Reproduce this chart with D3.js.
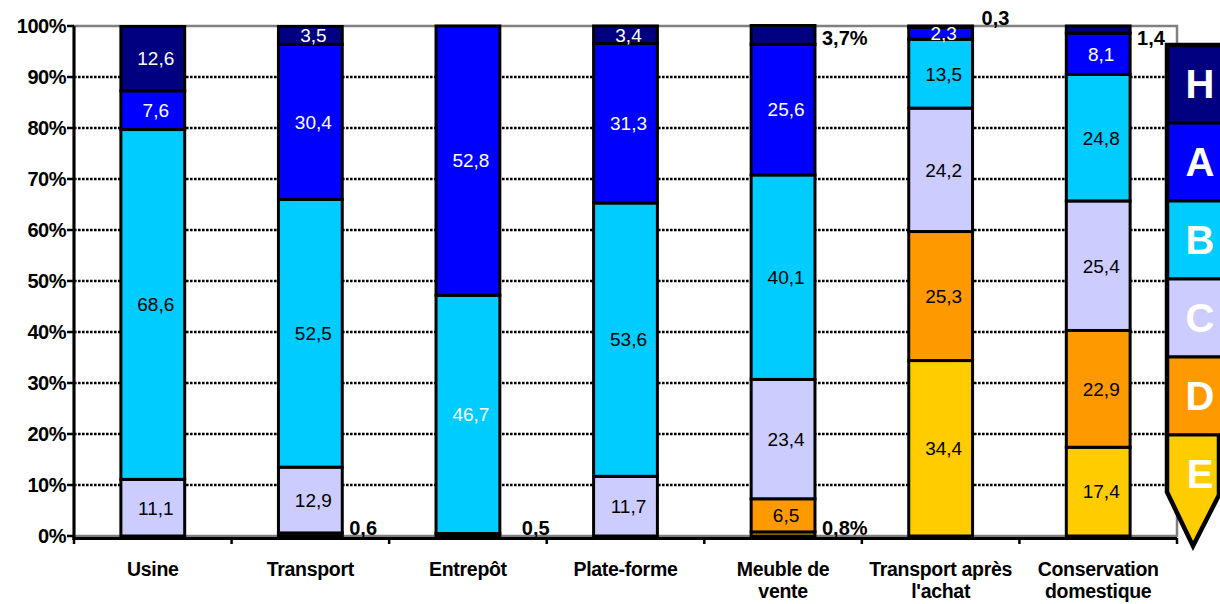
<!DOCTYPE html>
<html><head><meta charset="utf-8">
<script src="https://cdn.jsdelivr.net/npm/d3@7"></script>
<style>
body{margin:0;background:#fff}
svg{display:block}
text{font-family:"Liberation Sans",Arial,sans-serif}
</style>
</head><body>
<svg id="chart" width="1220" height="604"></svg>
<script>
// ---------- DATA ----------
const categories = ["Usine","Transport","Entrepôt","Plate-forme","Meuble de vente","Transport après l'achat","Conservation domestique"];
const categoryLines = [["Usine"],["Transport"],["Entrepôt"],["Plate-forme"],["Meuble de","vente"],["Transport après","l'achat"],["Conservation","domestique"]];
const seriesKeys = ["E","D","C","B","A","H"];          // stacked bottom -> top
const legendKeys = ["H","A","B","C","D","E"];          // legend top -> bottom
const valuesE = [0,    0.6,  0.5,  0,    0.8,  34.4, 17.4];
const valuesD = [0,    0,    0,    0,    6.5,  25.3, 22.9];
const valuesC = [11.1, 12.9, 0,    11.7, 23.4, 24.2, 25.4];
const valuesB = [68.6, 52.5, 46.7, 53.6, 40.1, 13.5, 24.8];
const valuesA = [7.6,  30.4, 52.8, 31.3, 25.6, 2.3,  8.1];
const valuesH = [12.6, 3.5,  0,    3.4,  3.7,  0.3,  1.4];
const yTickValues = [0,10,20,30,40,50,60,70,80,90,100];
const yTickLabels = ["0%","10%","20%","30%","40%","50%","60%","70%","80%","90%","100%"];
// labels written outside their (thin) segments: [category, series, text]
const outsideLabels = [
  ["Transport","E","0,6"],
  ["Entrepôt","E","0,5"],
  ["Meuble de vente","E","0,8%"],
  ["Meuble de vente","H","3,7%"],
  ["Transport après l'achat","H","0,3"],
  ["Conservation domestique","H","1,4"]
];
// inside labels drawn in white on a light fill
const whiteInside = [["Entrepôt","B"]];

// ---------- STYLE ----------
const colors = {H:"#000080",A:"#0000ff",B:"#00ccff",C:"#ccccff",D:"#ff9900",E:"#ffcc00"};
const darkSeries = ["H","A"];

const svg = d3.select("#chart");
const pLeft = 74, pRight = 1177, pTop = 26, pBottom = 536;

const x = d3.scaleBand().domain(categories).range([pLeft,pRight]).paddingInner(0.595).paddingOuter(0.2975);
const y = d3.scaleLinear().domain([0,100]).range([pBottom,pTop]);

const valueMap = {E:valuesE,D:valuesD,C:valuesC,B:valuesB,A:valuesA,H:valuesH};
const rows = categories.map((c,i)=>{const r={cat:c}; seriesKeys.forEach(k=>r[k]=valueMap[k][i]); return r;});
const stacked = d3.stack().keys(seriesKeys)(rows);

// gridlines
svg.append("g").selectAll("line").data(yTickValues.filter(v=>v>0&&v<100)).join("line")
  .attr("x1",pLeft).attr("x2",pRight).attr("y1",d=>y(d)).attr("y2",d=>y(d))
  .attr("stroke","#000").attr("stroke-width",2.5).attr("stroke-dasharray","2.6,1.4");

// plot area border (gray)
svg.append("rect").attr("x",pLeft).attr("y",y(100)).attr("width",pRight-pLeft).attr("height",y(0)-y(100))
  .attr("fill","none").attr("stroke","#808080").attr("stroke-width",2.5);

// bars
const layer = svg.append("g").selectAll("g").data(stacked).join("g").attr("fill",d=>colors[d.key]);
layer.selectAll("rect").data(d=>d.map(p=>({key:d.key,p})).filter(o=>o.p[1]-o.p[0]>0)).join("rect")
  .attr("x",o=>x(o.p.data.cat)).attr("width",x.bandwidth())
  .attr("y",o=>y(o.p[1])).attr("height",o=>y(o.p[0])-y(o.p[1]))
  .attr("stroke","#000").attr("stroke-width",3);

// inside labels
const outsideSet = new Set(outsideLabels.map(d=>d[0]+"|"+d[1]));
const whiteSet = new Set(whiteInside.map(d=>d[0]+"|"+d[1]));
const fmt = v => String(v).replace(".",",");
const insideData = [];
stacked.forEach(s=>s.forEach(p=>{
  const v = p[1]-p[0];
  const id = p.data.cat+"|"+s.key;
  if (v>0 && !outsideSet.has(id)) insideData.push({key:s.key,cat:p.data.cat,v:p.data[s.key],mid:(p[0]+p[1])/2,id});
}));
svg.append("g").selectAll("text").data(insideData).join("text")
  .attr("x",d=>x(d.cat)+x.bandwidth()/2+3).attr("y",d=>y(d.mid)).attr("dy","0.36em")
  .attr("text-anchor","middle").attr("font-size",19)
  .attr("fill",d=>(darkSeries.includes(d.key)||whiteSet.has(d.id))?"#fff":"#000")
  .text(d=>fmt(d.v));

// outside labels
const nudge = {"Entrepôt|E":{dx:15,dy:0},"Transport après l'achat|H":{dx:2,dy:-20}};
svg.append("g").selectAll("text").data(outsideLabels).join("text")
  .attr("x",d=>x(d[0])+x.bandwidth()+7+((nudge[d[0]+"|"+d[1]]||{}).dx||0))
  .attr("y",d=>(d[1]==="E"? y(0)-1 : y(100)+19)+((nudge[d[0]+"|"+d[1]]||{}).dy||0))
  .attr("font-size",20).attr("font-weight","bold").attr("fill","#000")
  .text(d=>d[2]);

// y axis
const yAxis = svg.append("g");
yAxis.append("line").attr("x1",pLeft).attr("x2",pLeft).attr("y1",pTop).attr("y2",pBottom+4)
  .attr("stroke","#000").attr("stroke-width",3);
yAxis.selectAll("line.t").data(yTickValues).join("line").attr("class","t")
  .attr("x1",pLeft-7).attr("x2",pLeft).attr("y1",d=>y(d)).attr("y2",d=>y(d))
  .attr("stroke","#000").attr("stroke-width",2.5);
yAxis.selectAll("text").data(yTickValues).join("text")
  .attr("x",pLeft-8).attr("y",d=>y(d)).attr("dy","0.36em").attr("text-anchor","end")
  .attr("font-size",20).attr("font-weight","bold").attr("letter-spacing","-0.5")
  .text((d,i)=>yTickLabels[i]);

// x axis
const xAxis = svg.append("g");
xAxis.append("line").attr("x1",pLeft-1.5).attr("x2",pRight).attr("y1",pBottom+2.5).attr("y2",pBottom+2.5)
  .attr("stroke","#000").attr("stroke-width",3);
const step = x.step();
xAxis.selectAll("line.t").data(d3.range(categories.length+1)).join("line").attr("class","t")
  .attr("x1",i=>pLeft+i*step).attr("x2",i=>pLeft+i*step).attr("y1",pBottom+2).attr("y2",pBottom+8)
  .attr("stroke","#000").attr("stroke-width",2.5);
const catG = xAxis.selectAll("text").data(categories).join("text")
  .attr("x",d=>x(d)+x.bandwidth()/2).attr("y",576).attr("text-anchor","middle")
  .attr("font-size",19.5).attr("font-weight","bold").attr("letter-spacing","-0.3");
catG.selectAll("tspan").data((d,i)=>categoryLines[i]).join("tspan")
  .attr("x",function(){return d3.select(this.parentNode).attr("x");})
  .attr("dy",(d,i)=>i===0?0:22).text(d=>d);

// legend (pencil)
const lg = svg.append("g");
const lx0 = 1167, lx1 = 1222, tipX = 1193;
const ly = d3.scaleBand().domain(legendKeys).range([45,513]);
legendKeys.forEach(k=>{
  const t = ly(k), b = t+ly.bandwidth();
  if (k!=="E") {
    lg.append("rect").attr("x",lx0).attr("y",t).attr("width",lx1-lx0).attr("height",b-t)
      .attr("fill",colors[k]).attr("stroke","#000").attr("stroke-width",3);
  } else {
    lg.append("path").attr("d",`M${lx0},${t}L${lx1},${t}L${lx1},495L1219,495L${tipX},546L${lx0},492Z`)
      .attr("fill",colors[k]).attr("stroke","#000").attr("stroke-width",3);
  }
  lg.append("text").attr("x",1200).attr("y",t+ly.bandwidth()/2).attr("dy","0.36em")
    .attr("text-anchor","middle").attr("font-size",40).attr("font-weight","bold").attr("fill","#fff").text(k);
});
lg.append("path").attr("d",`M${lx1},45L${lx0},45L${lx0},492L${tipX},546L1219,495L1219,${ly("E")}`)
  .attr("fill","none").attr("stroke","#000").attr("stroke-width",4.5).attr("stroke-linejoin","miter");
</script>
</body></html>
